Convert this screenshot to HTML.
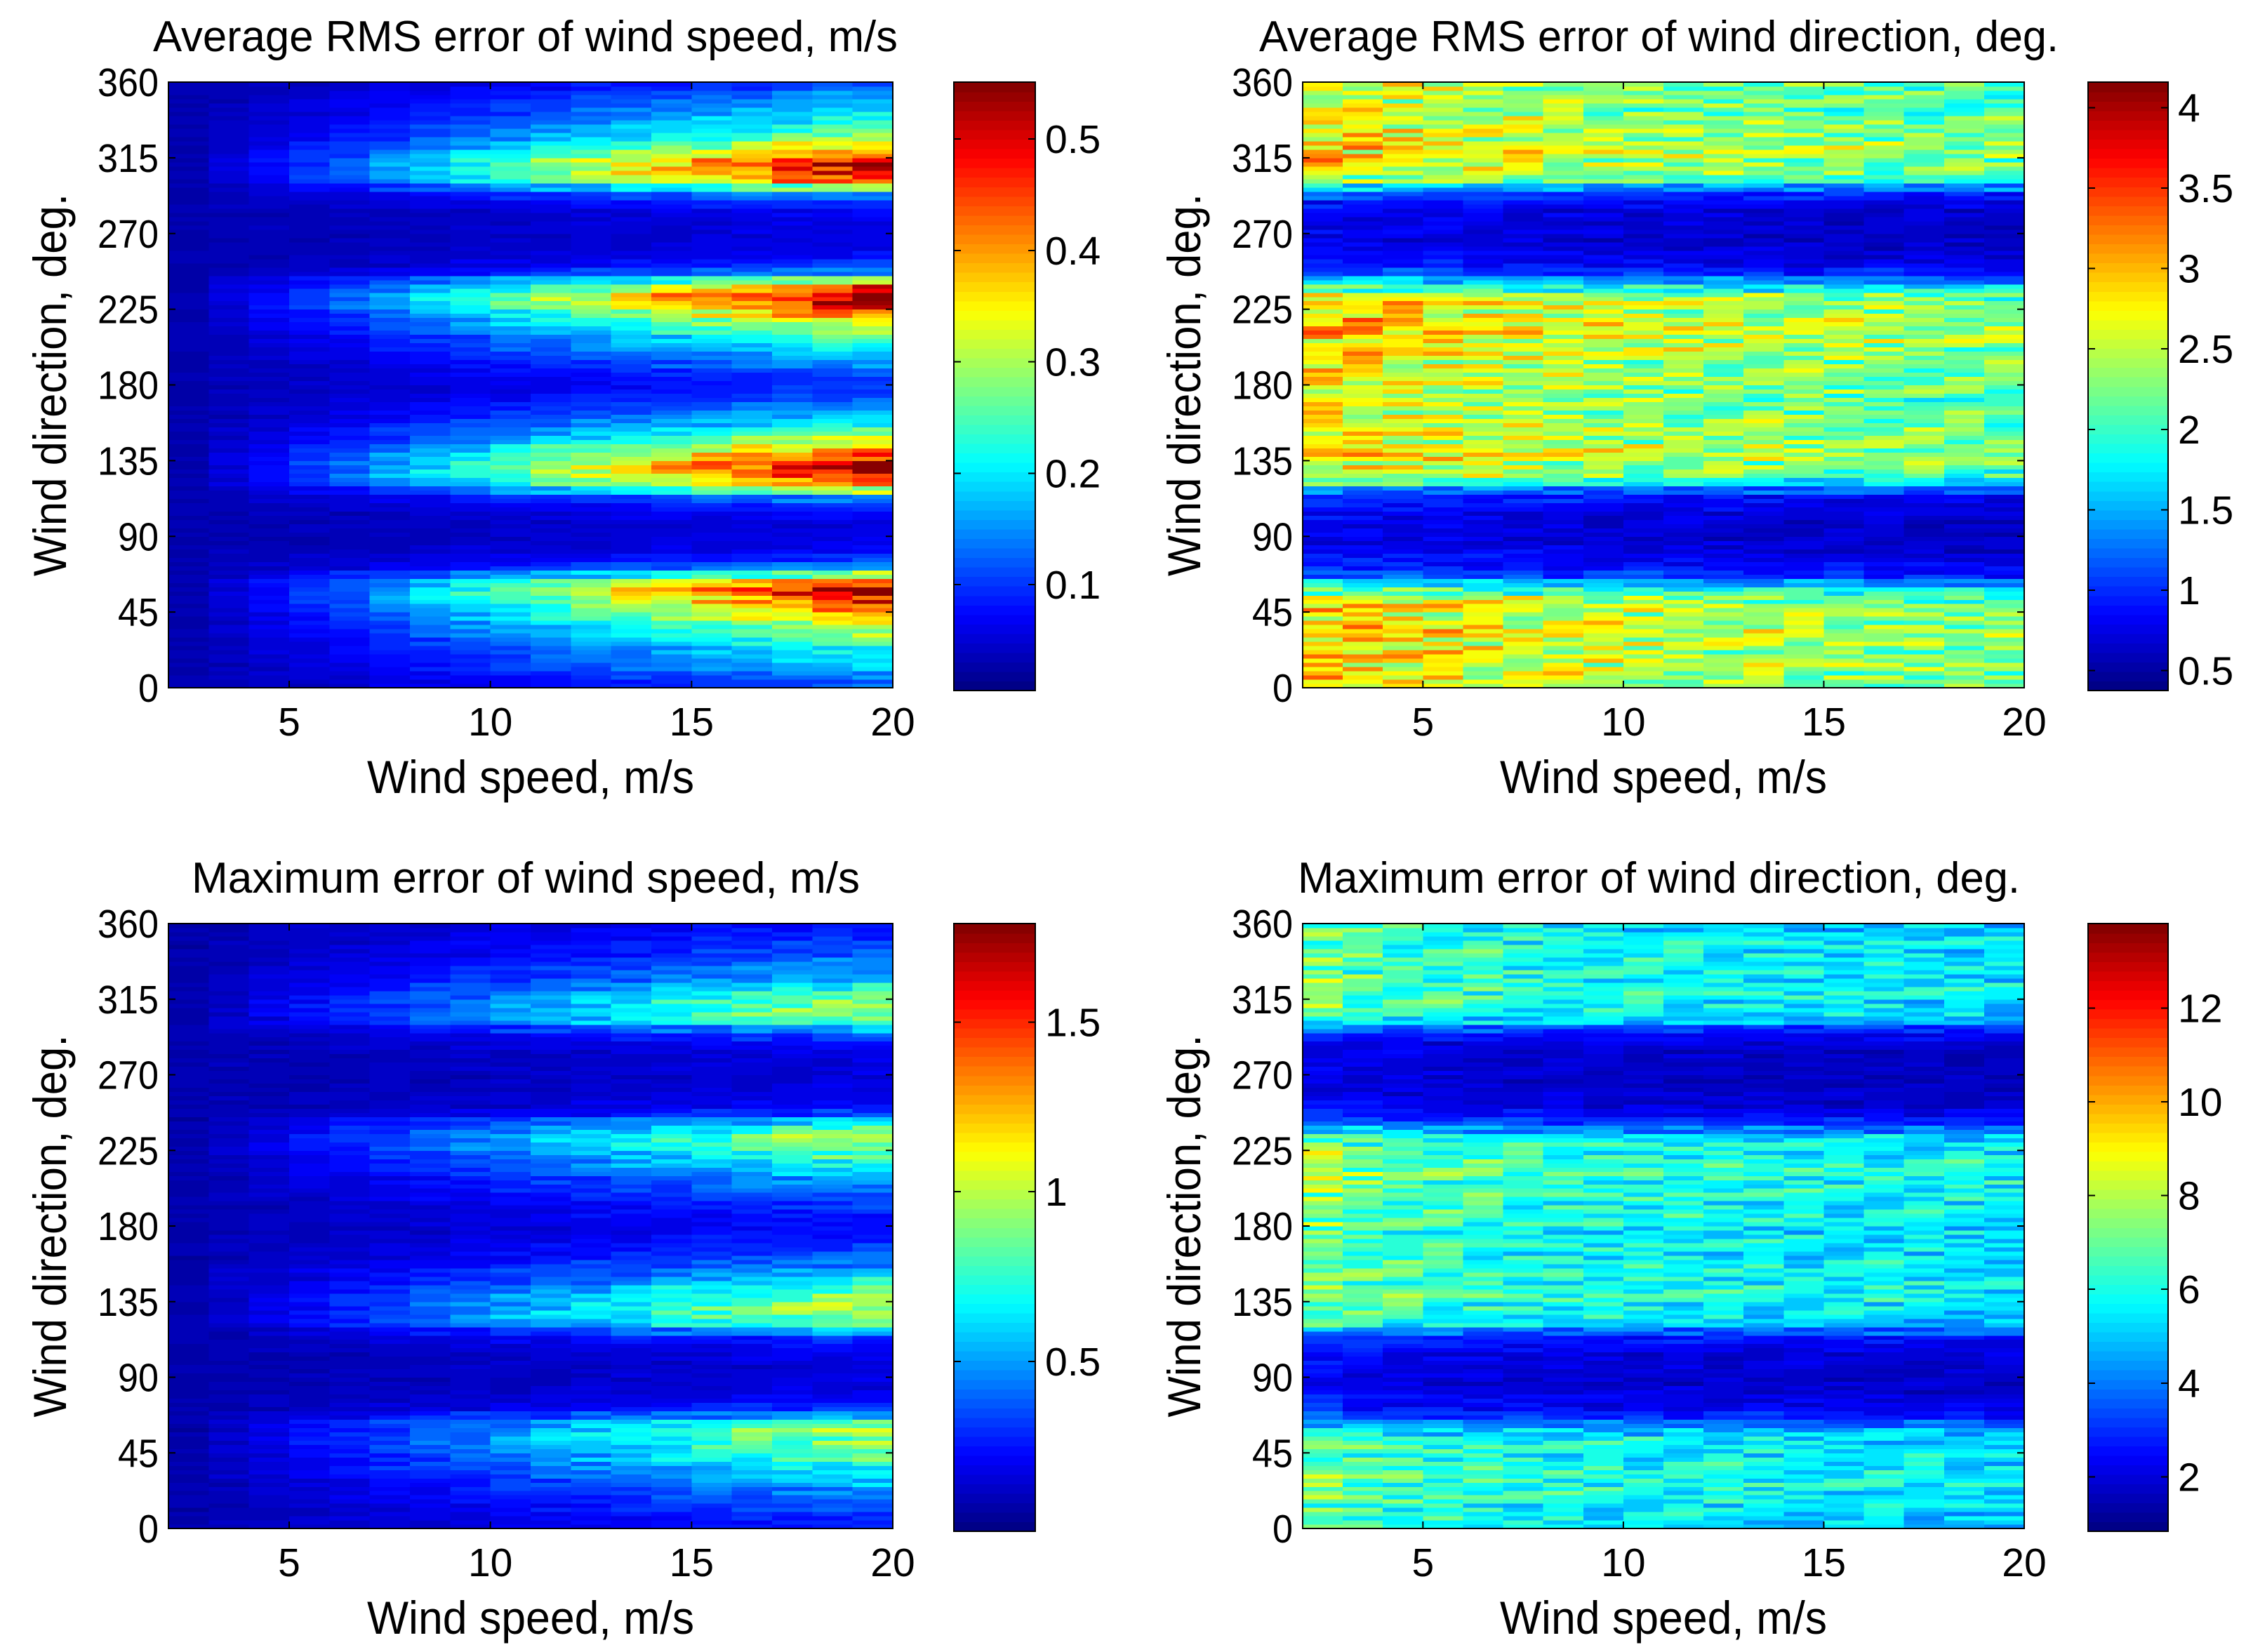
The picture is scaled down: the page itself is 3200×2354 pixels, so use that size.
<!DOCTYPE html>
<html><head><meta charset="utf-8">
<style>
html,body{margin:0;padding:0;background:#fff;}
svg{display:block;}
text{font-family:"Liberation Sans",Arial,sans-serif;fill:#000;}
</style></head>
<body>
<svg id="fig" xmlns="http://www.w3.org/2000/svg" width="3200" height="2354" viewBox="0 0 3200 2354">
<rect x="0" y="0" width="3200" height="2354" fill="#fff"/>
</svg>
<script>
// ---- data ----
const speedEdges = [2,3,4,5,6,7,8,9,10,11,12,13,14,15,16,17,18,19,20];
const xTicks = [5,10,15,20];
const yTicks = [0,45,90,135,180,225,270,315,360];
// direction profile (5-degree bins, 0..355) of avg RMS speed error at 20 m/s
const rmsSpeedProfile = [0.12,0.15,0.18,0.2,0.22,0.25,0.3,0.33,0.38,0.42,0.48,0.52,0.46,0.3,0.15,0.1,0.07,0.06,0.06,0.06,0.07,0.1,0.15,0.3,0.44,0.52,0.52,0.46,0.4,0.32,0.27,0.22,0.18,0.15,0.12,0.1,0.1,0.12,0.15,0.18,0.22,0.25,0.3,0.35,0.42,0.5,0.53,0.45,0.3,0.15,0.1,0.07,0.06,0.06,0.06,0.06,0.07,0.1,0.15,0.3,0.45,0.5,0.52,0.42,0.35,0.3,0.25,0.22,0.2,0.17,0.15,0.12];
const maxSpeedProfile = [0.28,0.32,0.36,0.42,0.48,0.55,0.64,0.72,0.8,0.88,0.94,0.96,0.85,0.55,0.3,0.22,0.18,0.16,0.16,0.16,0.18,0.22,0.3,0.55,0.85,0.98,0.98,0.9,0.8,0.66,0.55,0.45,0.38,0.32,0.28,0.25,0.25,0.28,0.32,0.38,0.45,0.52,0.6,0.7,0.82,0.92,0.96,0.86,0.6,0.32,0.22,0.18,0.16,0.16,0.16,0.16,0.18,0.22,0.32,0.56,0.86,0.94,0.96,0.82,0.7,0.58,0.5,0.44,0.38,0.34,0.3,0.28];
// speed gain per column (2..20 m/s)
const rmsSpeedGain = [0,0.05,0.1,0.15,0.2,0.27,0.33,0.4,0.46,0.52,0.58,0.64,0.7,0.76,0.82,0.88,0.94,1];
const maxSpeedGain = [0,0.06,0.12,0.18,0.24,0.3,0.36,0.42,0.48,0.54,0.6,0.66,0.72,0.78,0.84,0.9,0.95,1];
// direction error profiles
const rmsDirProfile = [2.4,2.5,2.55,2.55,2.5,2.55,2.65,2.55,2.5,2.55,2.4,2.0,1.5,1.05,0.9,0.8,0.75,0.7,0.7,0.7,0.75,0.8,0.9,1.25,1.85,2.3,2.45,2.55,2.55,2.45,2.45,2.4,2.4,2.3,2.3,2.4,2.4,2.4,2.45,2.5,2.55,2.65,2.65,2.65,2.55,2.55,2.4,1.95,1.4,1.0,0.85,0.75,0.7,0.7,0.7,0.7,0.75,0.8,1.0,1.5,2.1,2.4,2.5,2.55,2.55,2.5,2.4,2.4,2.3,2.3,2.3,2.4];
const rmsDirGain = [1.12,1.1,1.08,1.06,1.04,1.02,1.0,0.98,0.97,0.96,0.95,0.94,0.93,0.92,0.91,0.9,0.89,0.88];
const maxDirProfile = [5.4,5.6,5.8,5.9,6.0,6.2,6.1,6.0,5.9,5.8,5.7,5.2,3.9,2.9,2.4,2.2,2.0,1.9,1.9,2.0,2.1,2.3,2.7,3.9,5.2,5.7,6.0,6.2,6.2,6.1,6.0,6.0,5.9,5.8,5.8,5.8,6.0,6.1,6.1,6.2,6.2,6.4,6.5,6.4,6.2,6.0,5.5,4.4,3.0,2.4,2.0,1.9,1.8,1.8,1.8,1.8,1.9,2.0,2.4,3.4,5.0,5.7,6.0,6.1,6.1,6.0,5.9,5.9,6.0,5.9,5.8,5.6];
const maxDirGain = [1.2,1.12,1.08,1.05,1.03,1.0,0.99,0.98,0.97,0.96,0.95,0.94,0.93,0.92,0.92,0.91,0.9,0.89];
// cell texture (hand-typed relative deviations)
const texture = [0.3,-0.5,0.1,0.8,-0.2,-0.7,0.5,0.0,-0.4,0.9,-0.1,0.4,-0.8,0.2,0.6,-0.3,0.1,-0.6,0.7,-0.2,0.3,-0.9,0.4,0.0,0.5,-0.4,0.2,1.0,-0.5,0.1,-0.3,0.6,-0.1,0.3,-0.7,0.8,0.0,-0.2,0.5,-0.6,0.2,0.4,-0.3,0.9,-0.8,0.1,0.3,-0.1,0.6,-0.4,0.0,0.7,-0.5,0.2,-0.9,0.4,0.1,-0.2,0.8,-0.3,0.5,-0.6,0.3,0.0,-0.1,0.9,-0.7,0.2,0.4,-0.4,0.6,-0.2,0.1,-0.8,0.7,0.3,-0.5,0.0,0.5,-0.1,0.2,-0.3,0.8,-0.6,0.4,0.1,-0.9,0.6,-0.2,0.3,0.0,-0.4,0.7,-0.1,0.5,-0.7,0.2];
const cbTicksA = [0.1,0.2,0.3,0.4,0.5];
const cbTicksB = [0.5,1,1.5,2,2.5,3,3.5,4];
const cbTicksC = [0.5,1,1.5];
const cbTicksD = [2,4,6,8,10,12];

const NS = "http://www.w3.org/2000/svg";
const svg = document.getElementById('fig');
function mk(tag, attrs, parent){const e=document.createElementNS(NS,tag);for(const k in attrs)e.setAttribute(k,attrs[k]);(parent||svg).appendChild(e);return e;}
function jet(t){
  t=Math.max(0,Math.min(1,t));
  let q=Math.min(63,Math.floor(t*64)); t=(q+0.5)/64;
  const r=Math.max(0,Math.min(1,1.5-Math.abs(4*t-3)));
  const g=Math.max(0,Math.min(1,1.5-Math.abs(4*t-2)));
  const b=Math.max(0,Math.min(1,1.5-Math.abs(4*t-1)));
  return `rgb(${Math.round(r*255)},${Math.round(g*255)},${Math.round(b*255)})`;
}
const panels = [
 {key:'avg-rms-speed',title:'Average RMS error of wind speed, m/s',px0:240,px1:1272,py0:117,py1:980,cb0:1359,cb1:1475,cby1:984,vmin:0.005,vmax:0.551,ticks:cbTicksA,
  tx:[218,1061],
  val:(r,c,j)=>0.03+(rmsSpeedProfile[r]-0.03)*rmsSpeedGain[c]*(1+0.16*j)+0.008*j},
 {key:'avg-rms-direction',title:'Average RMS error of wind direction, deg.',px0:1856,px1:2884,py0:117,py1:980,cb0:2975,cb1:3089,cby1:984,vmin:0.375,vmax:4.16,ticks:cbTicksB,
  tx:[1794,1139],
  val:(r,c,j)=>rmsDirProfile[r]*rmsDirGain[c]*(1+0.22*j)},
 {key:'max-speed',title:'Maximum error of wind speed, m/s',px0:240,px1:1272,py0:1316,py1:2178,cb0:1359,cb1:1475,cby1:2182,vmin:0.0,vmax:1.79,ticks:cbTicksC,
  tx:[273,952],
  val:(r,c,j)=>0.08+(maxSpeedProfile[r]-0.08)*maxSpeedGain[c]*(1+0.2*j)+0.03*j},
 {key:'max-direction',title:'Maximum error of wind direction, deg.',px0:1856,px1:2884,py0:1316,py1:2178,cb0:2975,cb1:3089,cby1:2182,vmin:0.84,vmax:13.8,ticks:cbTicksD,
  tx:[1849,1029],
  val:(r,c,j)=>maxDirProfile[r]*maxDirGain[c]*(1+0.24*j)}
];
const SUB=2; // sub-rows per 5-degree bin
panels.forEach((p,pi)=>{
  const g=mk('g',{});
  
  
  const xs=v=>p.px0+(v-2)/(20-2)*(p.px1-p.px0);
  const ys=v=>p.py1-(v/360)*(p.py1-p.py0);
  const hm=mk('g',{'shape-rendering':'crispEdges'},g);
  
  
  const nb=rmsSpeedProfile.length;
  for(let c=0;c<speedEdges.length-1;c++){
    for(let r=0;r<nb;r++){
      for(let s=0;s<SUB;s++){
        const j=texture[(r*SUB*7+s*3+c*13+pi*29)%texture.length];
        const v=p.val(r,c,j);
        const d0=(r*SUB+s)*(360/(nb*SUB)), d1=d0+360/(nb*SUB);
        const x0=xs(speedEdges[c]), x1=xs(speedEdges[c+1]);
        const y0=ys(d1), y1=ys(d0);
        const rc=mk('rect',{x:x0.toFixed(1),y:y0.toFixed(1),width:(x1-x0+0.6).toFixed(1),height:(y1-y0+0.6).toFixed(1),fill:jet((v-p.vmin)/(p.vmax-p.vmin))},hm);
        
        
      }
    }
  }
  const box=mk('rect',{x:p.px0,y:p.py0,width:p.px1-p.px0,height:p.py1-p.py0,fill:'none',stroke:'#000','stroke-width':2},g);
  
  
  xTicks.forEach(t=>{
    const x=xs(t);
    mk('line',{x1:x,x2:x,y1:p.py1,y2:p.py1-10,stroke:'#000','stroke-width':2},g);
    mk('line',{x1:x,x2:x,y1:p.py0,y2:p.py0+10,stroke:'#000','stroke-width':2},g);
    const tl=mk('text',{x:x,y:p.py1+68,'font-size':57,'text-anchor':'middle'},g);
    tl.textContent=t;
    
    
  });
  yTicks.forEach(t=>{
    const y=ys(t);
    mk('line',{x1:p.px0,x2:p.px0+10,y1:y,y2:y,stroke:'#000','stroke-width':2},g);
    mk('line',{x1:p.px1,x2:p.px1-10,y1:y,y2:y,stroke:'#000','stroke-width':2},g);
    const tl=mk('text',{x:p.px0-14,y:y+20,'font-size':57,'text-anchor':'end',textLength:(String(t).length*29),lengthAdjust:'spacingAndGlyphs'},g);
    tl.textContent=t;
    
    
  });
  const ti=mk('text',{x:p.tx[0],y:72,'font-size':62,textLength:p.tx[1],lengthAdjust:'spacingAndGlyphs'},g);
  ti.setAttribute('y', p.py0-44);
  ti.textContent=p.title;
  
  
  const xc=(p.px0+p.px1)/2;
  const xl=mk('text',{x:xc,y:p.py1+150,'font-size':66,'text-anchor':'middle',textLength:466,lengthAdjust:'spacingAndGlyphs'},g);
  xl.textContent='Wind speed, m/s';
  
  
  const yc=(p.py0+p.py1)/2;
  const ylx=p.px0-146;
  const yl=mk('text',{x:ylx,y:yc,'font-size':66,'text-anchor':'middle',textLength:545,lengthAdjust:'spacingAndGlyphs',transform:`rotate(-90 ${ylx} ${yc})`},g);
  yl.textContent='Wind direction, deg.';
  
  
  // colorbar
  const cb=mk('g',{'shape-rendering':'crispEdges'},g);
  
  
  const H=p.cby1-p.py0;
  for(let i=0;i<64;i++){
    mk('rect',{x:p.cb0,y:(p.cby1-(i+1)*H/64).toFixed(1),width:p.cb1-p.cb0,height:(H/64+0.8).toFixed(1),fill:jet((i+0.5)/64)},cb);
  }
  mk('rect',{x:p.cb0,y:p.py0,width:p.cb1-p.cb0,height:H,fill:'none',stroke:'#000','stroke-width':2},cb);
  p.ticks.forEach(t=>{
    const y=p.cby1-(t-p.vmin)/(p.vmax-p.vmin)*H;
    mk('line',{x1:p.cb0,x2:p.cb0+10,y1:y,y2:y,stroke:'#000','stroke-width':2},cb);
    mk('line',{x1:p.cb1,x2:p.cb1-10,y1:y,y2:y,stroke:'#000','stroke-width':2},cb);
    const tl=mk('text',{x:p.cb1+14,y:y+20,'font-size':57},cb);
    tl.textContent=t;
    
    
  });
});
</script>
</body></html>
